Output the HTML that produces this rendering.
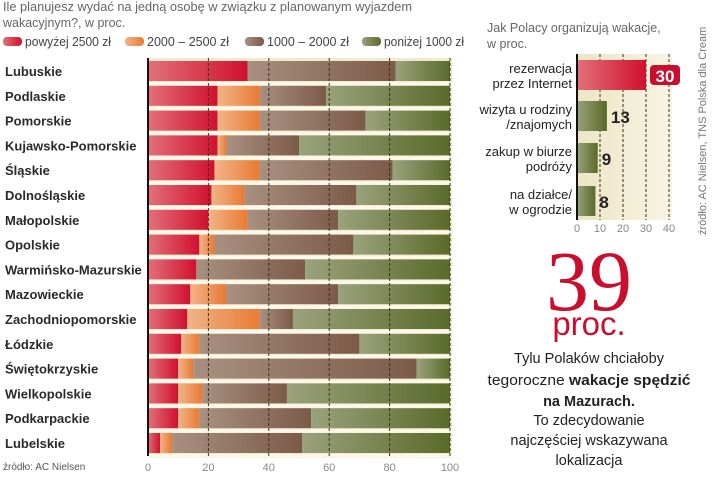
<!DOCTYPE html>
<html><head><meta charset="utf-8">
<style>
body{margin:0;background:#fff;width:720px;height:489px;overflow:hidden;font-family:"Liberation Sans","DejaVu Sans",sans-serif;}
svg{display:block}
</style></head>
<body>
<svg id="chart" width="720" height="489" viewBox="0 0 720 489" xmlns="http://www.w3.org/2000/svg">
<defs>
<linearGradient id="g0" x1="0" x2="1"><stop offset="0" stop-color="#e2707a"/><stop offset="1" stop-color="#d0102e"/></linearGradient>
<linearGradient id="g1" x1="0" x2="1"><stop offset="0" stop-color="#f2b488"/><stop offset="1" stop-color="#e87a34"/></linearGradient>
<linearGradient id="g2" x1="0" x2="1"><stop offset="0" stop-color="#a89080"/><stop offset="1" stop-color="#7c5a48"/></linearGradient>
<linearGradient id="g3" x1="0" x2="1"><stop offset="0" stop-color="#9aa27c"/><stop offset="1" stop-color="#5a6a2a"/></linearGradient>
<linearGradient id="gbg" x1="0" x2="1"><stop offset="0" stop-color="#ece6c4"/><stop offset="1" stop-color="#f8f4e4"/></linearGradient>
</defs>
<g font-size="12.5" fill="#666">
<text x="3" y="11" textLength="409" lengthAdjust="spacingAndGlyphs">Ile planujesz wydać na jedną osobę w związku z planowanym wyjazdem</text>
<text x="3" y="27">wakacyjnym?, w proc.</text>
</g>
<g id="legend" font-size="12.5" fill="#444"></g>
<g id="main"></g>
<text x="3" y="470" font-size="10" fill="#555">źródło: AC Nielsen</text>

<g font-size="12.5" fill="#666">
<text x="487" y="32">Jak Polacy organizują wakacje,</text>
<text x="487" y="48">w proc.</text>
</g>
<g id="side"></g>
<text transform="translate(706,235) rotate(-90)" font-size="11" fill="#777">źródło: AC Nielsen, TNS Polska dla Cream</text>

<text x="589" y="310" text-anchor="middle" font-family="Liberation Serif, serif" font-size="86" fill="#c8102e">39</text>
<text x="589" y="335" text-anchor="middle" font-size="33" fill="#c8102e">proc.</text>
<g font-size="14.5" fill="#222" text-anchor="middle">
<text x="589" y="363">Tylu Polaków chciałoby</text>
<text x="589" y="385" textLength="203" lengthAdjust="spacingAndGlyphs">tegoroczne <tspan font-weight="bold">wakacje spędzić</tspan></text>
<text x="589" y="406" font-weight="bold">na Mazurach.</text>
<text x="589" y="425">To zdecydowanie</text>
<text x="589" y="445">najczęściej wskazywana</text>
<text x="589" y="465">lokalizacja</text>
</g>
</svg>
<script>
const regions=["Lubuskie","Podlaskie","Pomorskie","Kujawsko-Pomorskie","Śląskie","Dolnośląskie","Małopolskie","Opolskie","Warmińsko-Mazurskie","Mazowieckie","Zachodniopomorskie","Łódzkie","Świętokrzyskie","Wielkopolskie","Podkarpackie","Lubelskie"];
const over2500=[33,23,23,23,22,21,20,17,16,14,13,11,10,10,10,4];
const s2000_2500=[0,14,14,3,15,11,13,5,0,12,24,6,5,8,7,4];
const s1000_2000=[49,22,35,24,44,37,30,46,36,37,11,53,74,28,37,43];
const under1000=[18,41,28,50,19,31,37,32,48,37,52,30,11,54,46,49];
const legendLabels=["powyżej 2500 zł","2000 – 2500 zł","1000 – 2000 zł","poniżej 1000 zł"];
const mainTicks=[0,20,40,60,80,100];
const sideCats=[["rezerwacja","przez Internet"],["wizyta u rodziny","/znajomych"],["zakup w biurze","podróży"],["na działce/","w ogrodzie"]];
const sideVals=[30,13,9,8];
const sideTicks=[0,10,20,30,40];

const NS="http://www.w3.org/2000/svg";
function el(tag,attrs,parent){const e=document.createElementNS(NS,tag);for(const k in attrs)e.setAttribute(k,attrs[k]);parent.appendChild(e);return e;}
// legend
const lg=document.getElementById('legend');
const lx=[3,125,245,362];
const lw=[86,82,82,80];
legendLabels.forEach((t,i)=>{
 const r=el('rect',{x:lx[i],y:37,width:19,height:9,rx:4,fill:`url(#g${i})`},lg);
 
 
 const tx=el('text',{x:lx[i]+22,y:46,textLength:lw[i],lengthAdjust:'spacingAndGlyphs'},lg);tx.textContent=t;
 
 
});
// main chart
const main=document.getElementById('main');
const X0=148,X1=450;
const x=v=>X0+(X1-X0)*v/100;
const rowY=i=>71+i*24.8;
const bg=el('rect',{x:X0,y:58,width:X1-X0+2,height:400,fill:'#f0ebcc'},main);


regions.forEach((r,i)=>{
 const gap=el('rect',{x:X0,y:rowY(i)+11,width:X1-X0+2,height:3.5,fill:'#fbf8ea'},main);
 
 
});
const series=[over2500,s2000_2500,s1000_2000,under1000];
regions.forEach((r,i)=>{
 let acc=0;
 series.forEach((s,k)=>{
  const v=s[i];
  if(v>0){
   const b=el('rect',{x:x(acc),y:rowY(i)-10,width:x(acc+v)-x(acc),height:20,fill:`url(#g${k})`},main);
   
   
  }
  acc+=v;
 });
 const t=el('text',{x:5,y:rowY(i)+5,'font-size':13,'font-weight':'bold',fill:'#2a2a2a'},main);
 t.textContent=r;
 
 
});
mainTicks.forEach(v=>{
 if(v>0){const g=el('line',{x1:x(v),x2:x(v),y1:58,y2:456,stroke:'#3a3020','stroke-width':1,'stroke-dasharray':'3,2'},main);
 
 }
 const t=el('text',{x:x(v),y:471,'font-size':11,fill:'#888','text-anchor':'middle'},main);
 t.textContent=v;
 
 
});
const ax=el('line',{x1:X0,x2:X0,y1:58,y2:456,stroke:'#111','stroke-width':2},main);


// side chart
const side=document.getElementById('side');
const S0=577,S1=669;
const sx=v=>S0+(S1-S0)*v/40;
const sbg=el('rect',{x:S0,y:54,width:S1-S0+3,height:166,fill:'url(#gbg)'},side);


const sy=[75,116,158,201];
sideTicks.forEach(v=>{
 if(v>0){const g=el('line',{x1:sx(v),x2:sx(v),y1:54,y2:220,stroke:'#3a3020','stroke-dasharray':'3,2'},side);
 
 }
 const t=el('text',{x:sx(v),y:232,'font-size':11,fill:'#888','text-anchor':'middle'},side);
 t.textContent=v;
 
 
});
sideCats.forEach((c,i)=>{
 const b=el('rect',{x:S0,y:sy[i]-15,width:sx(sideVals[i])-S0,height:30,fill:i===0?'url(#g0)':'url(#g3)'},side);
 
 
 c.forEach((l,j)=>{
  const t=el('text',{x:572,y:sy[i]-2+j*15,'font-size':13,fill:'#222','text-anchor':'end'},side);
  t.textContent=l;
  
  
 });
 if(i===0){
  const tg=el('rect',{x:sx(sideVals[i])+4,y:sy[i]-10,width:30,height:20,rx:4,fill:'#c8102e'},side);
  
  
  const t=el('text',{x:sx(sideVals[i])+19,y:sy[i]+7,'font-size':17,'font-weight':'bold',fill:'#fff','text-anchor':'middle'},side);
  t.textContent=sideVals[i];
  
  
 } else {
  const t=el('text',{x:sx(sideVals[i])+4,y:sy[i]+7,'font-size':17,'font-weight':'bold',fill:'#222'},side);
  t.textContent=sideVals[i];
  
  
 }
});
const sax=el('line',{x1:S0,x2:S0,y1:54,y2:220,stroke:'#111','stroke-width':2},side);


</script>
</body></html>
